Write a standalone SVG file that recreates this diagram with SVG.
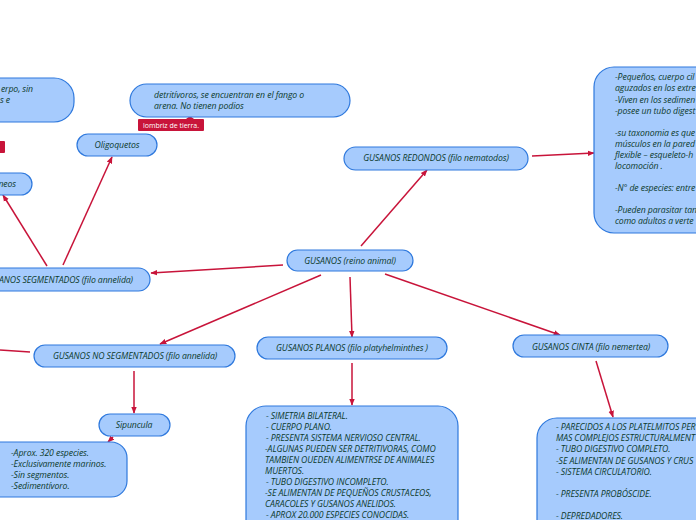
<svg xmlns="http://www.w3.org/2000/svg" width="696" height="520" viewBox="0 0 696 520">
<defs>
<marker id="ah" viewBox="0 0 10 10" refX="9" refY="5" markerWidth="7" markerHeight="7" markerUnits="userSpaceOnUse" orient="auto">
<path d="M0,1 L10,5 L0,9 Z" fill="#c8143a"/>
</marker>
<style>
.n{fill:#a6cbfd;stroke:#2f79dd;stroke-width:1.2}
.t{font-family:"Open Sans","Noto Sans","DejaVu Sans",sans-serif;font-style:italic;font-size:8.7px;fill:#0c3a2c;letter-spacing:-0.1px}
.c{text-anchor:middle}
.e{stroke:#c8143a;stroke-width:1.5;fill:none}
.a{marker-end:url(#ah)}
.lb{fill:#c8143a}
.lt{font-family:"Open Sans","Noto Sans",sans-serif;font-size:7px;fill:#ffffff}
</style>
</defs>
<rect width="696" height="520" fill="#ffffff"/>
<g id="connectors">
<line class="e a" x1="361" y1="246" x2="427" y2="170"/>
<line class="e a" x1="532" y1="156" x2="594" y2="153"/>
<line class="e a" x1="283" y1="265" x2="151" y2="273"/>
<line class="e a" x1="321" y1="275" x2="160" y2="344"/>
<line class="e a" x1="350" y1="277" x2="352" y2="337"/>
<line class="e a" x1="385" y1="274" x2="560" y2="335"/>
<line class="e a" x1="63" y1="265" x2="112" y2="157"/>
<line class="e a" x1="47" y1="266" x2="3" y2="195"/>
<line class="e" x1="30" y1="352" x2="0" y2="350"/>
<line class="e a" x1="134" y1="371" x2="134" y2="413"/>
<line class="e a" x1="113" y1="437" x2="108" y2="442"/>
<line class="e a" x1="352" y1="363" x2="352" y2="405"/>
<line class="e a" x1="596" y1="361" x2="613" y2="417"/>
</g>
<g id="gusanos">
<rect class="n" x="287" y="250" width="126" height="21" rx="10.5"/>
<text class="t c" x="350" y="264">GUSANOS (reino animal)</text>
</g>
<g id="redondos">
<rect class="n" x="344" y="147" width="184" height="23" rx="11.5"/>
<text class="t c" x="436" y="161">GUSANOS REDONDOS (filo nematodos)</text>
</g>
<g id="redondos-info">
<rect class="n" x="594" y="67" width="130" height="166" rx="20"/>
<text class="t" x="615" y="80">-Pequeños, cuerpo cil</text>
<text class="t" x="615" y="91">aguzados en los extre</text>
<text class="t" x="615" y="103">-Viven en los sedimen</text>
<text class="t" x="615" y="114">-posee un tubo digest</text>
<text class="t" x="615" y="136">-su taxonomia es que</text>
<text class="t" x="615" y="147">músculos en la pared</text>
<text class="t" x="615" y="158">flexible – esqueleto-h</text>
<text class="t" x="615" y="169">locomoción .</text>
<text class="t" x="615" y="191">-N° de especies: entre</text>
<text class="t" x="615" y="213">-Pueden parasitar tan</text>
<text class="t" x="615" y="224">como adultos a verte</text>
</g>
<g id="segmentados">
<rect class="n" x="-60" y="268" width="210" height="23" rx="11.5"/>
<text class="t" x="133" y="283" text-anchor="end">GUSANOS SEGMENTADOS (filo annelida)</text>
</g>
<g id="no-segmentados">
<rect class="n" x="34" y="345" width="201" height="22" rx="11"/>
<text class="t c" x="135" y="359">GUSANOS NO SEGMENTADOS (filo annelida)</text>
</g>
<g id="planos">
<rect class="n" x="257" y="337" width="190" height="22" rx="11"/>
<text class="t c" x="352" y="351">GUSANOS PLANOS (filo platyhelminthes )</text>
</g>
<g id="cinta">
<rect class="n" x="513" y="335" width="155" height="22" rx="11"/>
<text class="t c" x="591" y="350">GUSANOS CINTA (filo nemertea)</text>
</g>
<g id="planos-info">
<rect class="n" x="246" y="406" width="212" height="140" rx="20"/>
<text class="t" x="266" y="419">- SIMETRIA BILATERAL.</text>
<text class="t" x="266" y="430">- CUERPO PLANO.</text>
<text class="t" x="266" y="441">- PRESENTA SISTEMA NERVIOSO CENTRAL.</text>
<text class="t" x="265" y="452">-ALGUNAS PUEDEN SER DETRITIVORAS, COMO</text>
<text class="t" x="265" y="463">TAMBIEN OUEDEN ALIMENTRSE DE ANIMALES</text>
<text class="t" x="265" y="474">MUERTOS.</text>
<text class="t" x="266" y="485">- TUBO DIGESTIVO INCOMPLETO.</text>
<text class="t" x="265" y="496">-SE ALIMENTAN DE PEQUEÑOS CRUSTACEOS,</text>
<text class="t" x="265" y="507">CARACOLES Y GUSANOS ANELIDOS.</text>
<text class="t" x="266" y="518">- APROX 20.000 ESPECIES CONOCIDAS.</text>
</g>
<g id="cinta-info">
<rect class="n" x="537" y="418" width="200" height="130" rx="20"/>
<text class="t" x="556" y="430">- PARECIDOS A LOS PLATELMITOS PER</text>
<text class="t" x="556" y="441">MAS COMPLEJOS ESTRUCTURALMENT</text>
<text class="t" x="556" y="452">- TUBO DIGESTIVO COMPLETO.</text>
<text class="t" x="556" y="464">-SE ALIMENTAN DE GUSANOS Y CRUS</text>
<text class="t" x="556" y="475">- SISTEMA CIRCULATORIO.</text>
<text class="t" x="556" y="497">- PRESENTA PROBÓSCIDE.</text>
<text class="t" x="556" y="519">- DEPREDADORES.</text>
</g>
<g id="sipuncula">
<rect class="n" x="99" y="414" width="71" height="22" rx="11"/>
<text class="t c" x="134" y="428">Sipuncula</text>
</g>
<g id="sipuncula-info">
<rect class="n" x="-30" y="442" width="157" height="55" rx="16"/>
<text class="t" x="11" y="456">-Aprox. 320 especies.</text>
<text class="t" x="11" y="467">-Exclusivamente marinos.</text>
<text class="t" x="11" y="478">-Sin segmentos.</text>
<text class="t" x="11" y="489">-Sedimentívoro.</text>
</g>
<g id="oligoquetos">
<rect class="n" x="77" y="134" width="80" height="22" rx="11"/>
<text class="t c" x="117" y="148">Oligoquetos</text>
<rect class="lb" x="138" y="119" width="66" height="12" rx="1"/>
<path class="lb" d="M186,119 L190,116 L194,119 Z"/>
<text class="lt" x="171" y="128" text-anchor="middle">lombriz de tierra.</text>
</g>
<g id="oligoquetos-info">
<rect class="n" x="130" y="84" width="220" height="33" rx="16.5"/>
<text class="t" x="154" y="98">detritívoros, se encuentran en el fango o</text>
<text class="t" x="154" y="109">arena. No tienen podios</text>
</g>
<g id="left-info">
<rect class="n" x="-60" y="78" width="134" height="44" rx="20"/>
<text class="t" x="33" y="92" text-anchor="end">erpo, sin</text>
<text class="t" x="10" y="103" text-anchor="end">s e</text>
<rect class="lb" x="-20" y="141" width="25" height="12" rx="1"/>
</g>
<g id="left-node">
<rect class="n" x="-60" y="173" width="92" height="22" rx="11"/>
<text class="t" x="16" y="187" text-anchor="end">neos</text>
</g>
</svg>
